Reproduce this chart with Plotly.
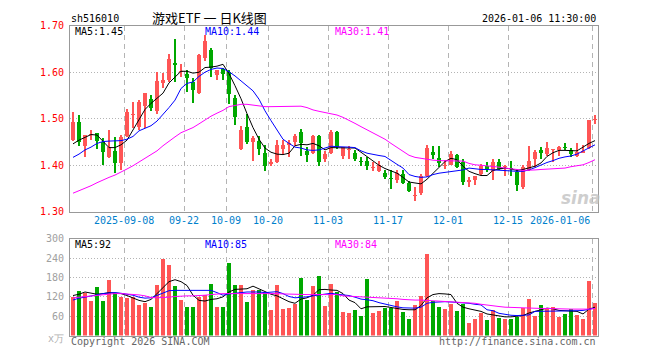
import plotly.graph_objects as go

dates = [
    "2025-08-26", "2025-08-27", "2025-08-28", "2025-08-29",
    "2025-09-01", "2025-09-02", "2025-09-03", "2025-09-04", "2025-09-05",
    "2025-09-08", "2025-09-09", "2025-09-10", "2025-09-11", "2025-09-12",
    "2025-09-15", "2025-09-16", "2025-09-17", "2025-09-18", "2025-09-19",
    "2025-09-22", "2025-09-23", "2025-09-24", "2025-09-25", "2025-09-26",
    "2025-09-29", "2025-09-30", "2025-10-09", "2025-10-10",
    "2025-10-13", "2025-10-14", "2025-10-15", "2025-10-16", "2025-10-17",
    "2025-10-20", "2025-10-21", "2025-10-22", "2025-10-23", "2025-10-24",
    "2025-10-27", "2025-10-28", "2025-10-29", "2025-10-30", "2025-10-31",
    "2025-11-03", "2025-11-04", "2025-11-05", "2025-11-06", "2025-11-07",
    "2025-11-10", "2025-11-11", "2025-11-12", "2025-11-13", "2025-11-14",
    "2025-11-17", "2025-11-18", "2025-11-19", "2025-11-20", "2025-11-21",
    "2025-11-24", "2025-11-25", "2025-11-26", "2025-11-27", "2025-11-28",
    "2025-12-01", "2025-12-02", "2025-12-03", "2025-12-04", "2025-12-05",
    "2025-12-08", "2025-12-09", "2025-12-10", "2025-12-11", "2025-12-12",
    "2025-12-15", "2025-12-16", "2025-12-17", "2025-12-18", "2025-12-19",
    "2025-12-22", "2025-12-23", "2025-12-24", "2025-12-25", "2025-12-26",
    "2025-12-29", "2025-12-30", "2025-12-31", "2026-01-05", "2026-01-06",
]

opens = [
    1.455, 1.492, 1.442, 1.464, 1.469, 1.450, 1.417, 1.430, 1.405, 1.462,
    1.508, 1.483, 1.528, 1.542, 1.517, 1.577, 1.584, 1.619, 1.600, 1.597,
    1.578, 1.556, 1.630, 1.647, 1.594, 1.606, 1.601, 1.545, 1.435, 1.483,
    1.449, 1.453, 1.427, 1.402, 1.408, 1.436, 1.443, 1.449, 1.472, 1.431,
    1.427, 1.462, 1.413, 1.427, 1.471, 1.420, 1.432, 1.426, 1.410, 1.410,
    1.394, 1.387, 1.384, 1.373, 1.368, 1.382, 1.361, 1.333, 1.340, 1.378,
    1.429, 1.415, 1.398, 1.401, 1.422, 1.408, 1.365, 1.368, 1.382, 1.399,
    1.387, 1.406, 1.397, 1.395, 1.385, 1.353, 1.389, 1.413, 1.432, 1.424,
    1.432, 1.432, 1.439, 1.432, 1.420, 1.427, 1.4375, 1.498,
]
highs = [
    1.514, 1.508, 1.466, 1.476, 1.470, 1.459, 1.476, 1.461, 1.465, 1.522,
    1.535, 1.540, 1.556, 1.552, 1.600, 1.598, 1.639, 1.672, 1.618, 1.604,
    1.587, 1.640, 1.680, 1.653, 1.605, 1.608, 1.604, 1.552, 1.484, 1.510,
    1.462, 1.462, 1.444, 1.413, 1.455, 1.455, 1.455, 1.467, 1.479, 1.439,
    1.465, 1.465, 1.430, 1.476, 1.473, 1.440, 1.441, 1.432, 1.417, 1.418,
    1.408, 1.410, 1.389, 1.389, 1.389, 1.389, 1.367, 1.354, 1.382, 1.444,
    1.441, 1.441, 1.411, 1.431, 1.424, 1.413, 1.375, 1.378, 1.402, 1.408,
    1.413, 1.413, 1.401, 1.410, 1.391, 1.400, 1.441, 1.432, 1.439, 1.449,
    1.434, 1.442, 1.448, 1.4375, 1.447, 1.444, 1.497, 1.508,
]
lows = [
    1.453, 1.442, 1.418, 1.455, 1.436, 1.400, 1.415, 1.383, 1.390, 1.460,
    1.480, 1.475, 1.481, 1.517, 1.510, 1.567, 1.579, 1.580, 1.590, 1.558,
    1.533, 1.553, 1.625, 1.590, 1.583, 1.583, 1.531, 1.486, 1.432, 1.445,
    1.410, 1.422, 1.387, 1.399, 1.405, 1.424, 1.417, 1.441, 1.420, 1.406,
    1.425, 1.399, 1.406, 1.425, 1.435, 1.413, 1.413, 1.410, 1.399, 1.389,
    1.387, 1.386, 1.370, 1.349, 1.361, 1.360, 1.342, 1.324, 1.336, 1.375,
    1.413, 1.396, 1.392, 1.400, 1.395, 1.358, 1.354, 1.358, 1.380, 1.385,
    1.368, 1.389, 1.377, 1.378, 1.345, 1.350, 1.387, 1.396, 1.413, 1.420,
    1.406, 1.420, 1.433, 1.417, 1.418, 1.427, 1.436, 1.488,
]
closes = [
    1.493, 1.451, 1.465, 1.467, 1.453, 1.428, 1.440, 1.405, 1.461, 1.515,
    1.511, 1.535, 1.556, 1.524, 1.582, 1.584, 1.628, 1.615, 1.603, 1.587,
    1.562, 1.636, 1.667, 1.608, 1.604, 1.597, 1.553, 1.503, 1.476, 1.450,
    1.458, 1.434, 1.399, 1.408, 1.444, 1.443, 1.447, 1.462, 1.447, 1.422,
    1.462, 1.408, 1.424, 1.471, 1.440, 1.439, 1.436, 1.413, 1.406, 1.399,
    1.397, 1.401, 1.374, 1.370, 1.384, 1.362, 1.344, 1.337, 1.378, 1.437,
    1.422, 1.405, 1.401, 1.424, 1.397, 1.365, 1.368, 1.376, 1.399, 1.391,
    1.408, 1.391, 1.399, 1.393, 1.358, 1.397, 1.410, 1.428, 1.427, 1.437,
    1.434, 1.439, 1.4375, 1.424, 1.429, 1.430, 1.497, 1.499,
]

ma5 = [
    1.446, 1.454, 1.460, 1.466, 1.465, 1.451, 1.438, 1.438, 1.444, 1.454,
    1.475, 1.498, 1.520, 1.533, 1.544, 1.555, 1.577, 1.590, 1.602, 1.602,
    1.598, 1.600, 1.610, 1.611, 1.613, 1.617, 1.597, 1.571, 1.543, 1.511,
    1.481, 1.456, 1.437, 1.428, 1.424, 1.423, 1.426, 1.442, 1.445, 1.444,
    1.447, 1.442, 1.433, 1.438, 1.438, 1.438, 1.438, 1.437, 1.428, 1.419,
    1.409, 1.400, 1.393, 1.388, 1.383, 1.374, 1.364, 1.362, 1.360, 1.370,
    1.382, 1.396, 1.408, 1.415, 1.412, 1.398, 1.387, 1.382, 1.378, 1.378,
    1.389, 1.392, 1.394, 1.392, 1.389, 1.391, 1.395, 1.398, 1.405, 1.419,
    1.427, 1.432, 1.432, 1.432, 1.431, 1.439, 1.447, 1.453,
]
ma10 = [
    1.417, 1.424, 1.433, 1.439, 1.447, 1.451, 1.452, 1.453, 1.453, 1.456,
    1.462, 1.474, 1.480, 1.485, 1.495, 1.509, 1.524, 1.540, 1.565, 1.576,
    1.579, 1.591, 1.600, 1.606, 1.609, 1.608, 1.601, 1.592, 1.581, 1.569,
    1.560, 1.542, 1.517, 1.496, 1.475, 1.456, 1.447, 1.439, 1.437, 1.433,
    1.432, 1.433, 1.437, 1.441, 1.440, 1.440, 1.439, 1.438, 1.431, 1.426,
    1.423, 1.421, 1.419, 1.410, 1.402, 1.394, 1.380, 1.376, 1.374, 1.375,
    1.380, 1.383, 1.385, 1.3875, 1.389, 1.390, 1.394, 1.392, 1.391, 1.391,
    1.390, 1.390, 1.389, 1.3875, 1.387, 1.387, 1.390, 1.395, 1.401, 1.406,
    1.410, 1.415, 1.418, 1.420, 1.424, 1.431, 1.4375, 1.444,
]
ma30 = [
    1.340, 1.345, 1.350, 1.356, 1.3625, 1.369, 1.374, 1.379, 1.385, 1.392,
    1.399, 1.407, 1.415, 1.423, 1.431, 1.442, 1.452, 1.461, 1.470, 1.475,
    1.481, 1.489, 1.498, 1.5055, 1.512, 1.518, 1.526, 1.529, 1.531, 1.531,
    1.529, 1.528, 1.526, 1.526, 1.526, 1.526, 1.526, 1.527, 1.527, 1.524,
    1.519, 1.516, 1.513, 1.510, 1.508, 1.503, 1.497, 1.490, 1.483, 1.476,
    1.470, 1.4635, 1.456, 1.447, 1.438, 1.430, 1.4215, 1.417, 1.4146, 1.4125,
    1.411, 1.410, 1.410, 1.410, 1.410, 1.409, 1.404, 1.401, 1.400, 1.399,
    1.397, 1.396, 1.394, 1.393, 1.391, 1.389, 1.389, 1.390, 1.391, 1.392,
    1.392, 1.394, 1.394, 1.397, 1.399, 1.401, 1.406, 1.412,
]

volumes = [
    120, 138, 133, 108, 150, 108, 171, 133, 118, 115,
    120, 96, 102, 90, 157, 238, 219, 153, 111, 90,
    87, 120, 125, 159, 90, 90, 225, 157, 157, 105,
    141, 141, 132, 78, 157, 81, 84, 99, 177, 111,
    153, 186, 93, 160, 135, 72, 69, 78, 60, 174,
    69, 75, 84, 84, 108, 72, 51, 96, 123, 252,
    108, 87, 81, 99, 75, 99, 39, 51, 69, 48,
    78, 54, 51, 51, 57, 84, 114, 60, 96, 84,
    87, 57, 66, 81, 63, 51, 168, 102,
]
vol_ma5 = [
    124, 128, 135, 132, 128, 130, 133, 132, 130, 124,
    117, 109, 105, 112, 130, 150, 167, 173, 167, 155,
    125, 109, 107, 112, 114, 120, 135, 143, 143, 145,
    153, 145, 135, 128, 123, 113, 105, 100, 113, 117,
    125, 142, 143, 141, 140, 130, 110, 102, 83, 89,
    90, 90, 90, 87, 83, 81, 80, 80, 93, 117,
    127, 130, 129, 127, 100, 88, 83, 80, 75, 67,
    64, 59, 58, 58, 59, 62, 70, 75, 78, 85,
    83, 78, 77, 77, 75, 67, 82, 88,
]
vol_ma10 = [
    110, 116, 119, 123, 128, 130, 132, 133, 131, 129,
    125, 119, 116, 117, 125, 133, 139, 140, 140, 139,
    138, 138, 139, 140, 133, 125, 129, 132, 133, 135,
    136, 135, 133, 134, 136, 130, 121, 117, 118, 120,
    123, 125, 127, 131, 128, 126, 124, 119, 113, 111,
    108, 102, 97, 93, 89, 86, 85, 85, 88, 100,
    103, 105, 105, 104, 103, 102, 100, 97, 95, 80,
    77, 69, 65, 63, 62, 63, 64, 75, 75, 76,
    77, 76, 75, 76, 77, 78, 81, 85,
]
vol_ma30 = [
    117, 119, 121, 124, 126, 128, 130, 130, 130, 129,
    128, 126, 123, 118, 117, 117, 119, 121, 123, 123,
    123, 123, 125, 127, 129, 130, 130, 130, 131, 132,
    132, 132, 131, 130, 130, 129, 128, 127, 127, 127,
    127, 127, 128, 129, 127, 123, 122, 121, 120, 120,
    120, 119, 118, 116, 114, 112, 110, 110, 110, 109,
    108, 107, 106, 105, 104, 103, 102, 100, 97, 94,
    92, 90, 88, 87, 86, 85, 85, 85, 84, 84,
    83, 83, 83, 82, 82, 81, 82, 84,
]

tick_dates = ["2025-09-08", "2025-09-22", "2025-10-09", "2025-10-20", "2025-11-03",
              "2025-11-17", "2025-12-01", "2025-12-15", "2026-01-06"]
tick_text = ["2025-09-08", "09-22", "10-09", "10-20", "11-03",
             "11-17", "12-01", "12-15", "2026-01-06"]
price_ticks = [1.30, 1.40, 1.50, 1.60, 1.70]
vol_ticks = [60, 120, 180, 240, 300]

# ---------------- styling ----------------
W, H = 660, 360
UP = "#ff5555"
DOWN = "#00a800"
MONO = "DejaVu Sans Mono"
GRID = "#b4b4b4"
FRAME = "#999999"


def px(x):
    return x / W


def py(y):
    return 1 - y / H


idx = list(range(len(dates)))
colors = [UP if c >= o else DOWN for o, c in zip(opens, closes)]
body_base = [min(o, c) for o, c in zip(opens, closes)]
body_len = [max(abs(c - o), 0.0014) for o, c in zip(opens, closes)]
wick_len = [h - l for h, l in zip(highs, lows)]

fig = go.Figure()

# wicks
fig.add_trace(go.Bar(x=idx, y=wick_len, base=lows, width=0.17,
                     marker=dict(color=colors, line=dict(width=0)),
                     xaxis="x", yaxis="y", showlegend=False, hoverinfo="skip"))
# bodies
fig.add_trace(go.Bar(x=idx, y=body_len, base=body_base, width=0.83,
                     marker=dict(color=colors, line=dict(width=0)),
                     xaxis="x", yaxis="y", showlegend=False,
                     customdata=list(zip(opens, highs, lows, closes)),
                     hovertemplate="O %{customdata[0]}<br>H %{customdata[1]}<br>L %{customdata[2]}<br>C %{customdata[3]}<extra></extra>"))

for series, col in ((ma5, "#000000"), (ma10, "#0000ff"), (ma30, "#ff00ff")):
    fig.add_trace(go.Scatter(x=idx, y=series, mode="lines",
                             line=dict(color=col, width=1),
                             xaxis="x", yaxis="y", showlegend=False, hoverinfo="skip"))

# volume
fig.add_trace(go.Bar(x=idx, y=volumes, width=0.83,
                     marker=dict(color=colors, line=dict(width=0)),
                     xaxis="x2", yaxis="y2", showlegend=False))
for series, col in ((vol_ma5, "#000000"), (vol_ma10, "#0000ff"), (vol_ma30, "#ff00ff")):
    fig.add_trace(go.Scatter(x=idx, y=series, mode="lines",
                             line=dict(color=col, width=1),
                             xaxis="x2", yaxis="y2", showlegend=False, hoverinfo="skip"))

tick_pos = [dates.index(d) - 0.5 for d in tick_dates]
xdom = [px(70), px(598)]
xcommon = dict(domain=xdom, range=[-0.5, len(dates) - 0.5], tickvals=tick_pos,
               showticklabels=False, showgrid=True, gridcolor=GRID, gridwidth=1,
               griddash="5px,4px", showline=True, mirror=True, linecolor=FRAME,
               linewidth=1, zeroline=False, ticks="", fixedrange=True)

fig.update_layout(
    width=W, height=H,
    margin=dict(l=0, r=0, t=0, b=0),
    paper_bgcolor="white", plot_bgcolor="white",
    barmode="overlay", bargap=0,
    showlegend=False,
    xaxis=dict(anchor="y", **xcommon),
    xaxis2=dict(anchor="y2", **xcommon),
    yaxis=dict(domain=[py(212.3), py(20.3)], range=[1.30, 1.70],
               tickvals=price_ticks, ticktext=["%.2f" % v for v in price_ticks],
               tickfont=dict(family=MONO, size=10, color="#ff0000"),
               showgrid=True, gridcolor=GRID, griddash="1px,2px", gridwidth=1,
               showline=True, mirror=True, linecolor=FRAME, linewidth=1,
               zeroline=False, ticks="", ticklabelstandoff=3, fixedrange=True),
    yaxis2=dict(domain=[py(340), py(240)], range=[0, 300],
                tickvals=vol_ticks, ticktext=[str(v) for v in vol_ticks],
                tickfont=dict(family=MONO, size=10, color="#a0a0a0"),
                showgrid=True, gridcolor=GRID, griddash="1px,2px", gridwidth=1,
                showline=True, mirror=True, linecolor=FRAME, linewidth=1,
                zeroline=False, ticks="", ticklabelstandoff=3, fixedrange=True),
)

ann = []


def text(x, y, s, color="#000000", size=10, anchor="left", family=MONO, **kw):
    ann.append(dict(x=px(x), y=py(y), xref="paper", yref="paper", text=s,
                    showarrow=False, xanchor=anchor, yanchor="middle",
                    font=dict(family=family, size=size, color=color), **kw))


# header
text(69, 13, "sh516010")
text(209.5, 12, "游戏ETF 一 日K线图", size=13, anchor="center",
     family="Noto Sans CJK SC")
text(598, 13, "2026-01-06 11:30:00", anchor="right")

# price MA legend
text(73, 26, "MA5:%.2f" % 1.45, color="#000000")
text(203, 26, "MA10:%.2f" % 1.44, color="#0000ff")
text(333, 26, "MA30:%.2f" % 1.41, color="#ff00ff")

# volume MA legend
text(73, 246.5, "MA5:%d" % 92, color="#000000")
text(203, 246.5, "MA10:%d" % 85, color="#0000ff")
text(333, 246.5, "MA30:%d" % 84, color="#ff00ff")

# x tick labels
for pos, lab in zip(tick_pos, tick_text):
    last = lab == tick_text[-1]
    ann.append(dict(x=pos, y=py(221.5), xref="x", yref="paper", text=lab,
                    showarrow=False, xanchor="right" if last else "center",
                    yanchor="middle",
                    font=dict(family=MONO, size=10, color="#0080cc")))

# unit label and footer
text(66, 343, "x万", color="#b0b0b0", size=10, anchor="right")
text(69, 346, "Copyright 2026 SINA.COM", color="#666666")
text(598, 346, "http://finance.sina.com.cn", color="#666666", anchor="right")

# watermark
text(581, 198, "<b><i>sina</i></b>", color="rgba(190,190,190,0.75)", size=17,
     anchor="center", family="DejaVu Sans")

fig.update_layout(annotations=ann)
fig.write_html("out.html",
               config={"displayModeBar": False, "staticPlot": True},
               post_script="document.body.style.margin='0';document.body.style.overflow='hidden';")
